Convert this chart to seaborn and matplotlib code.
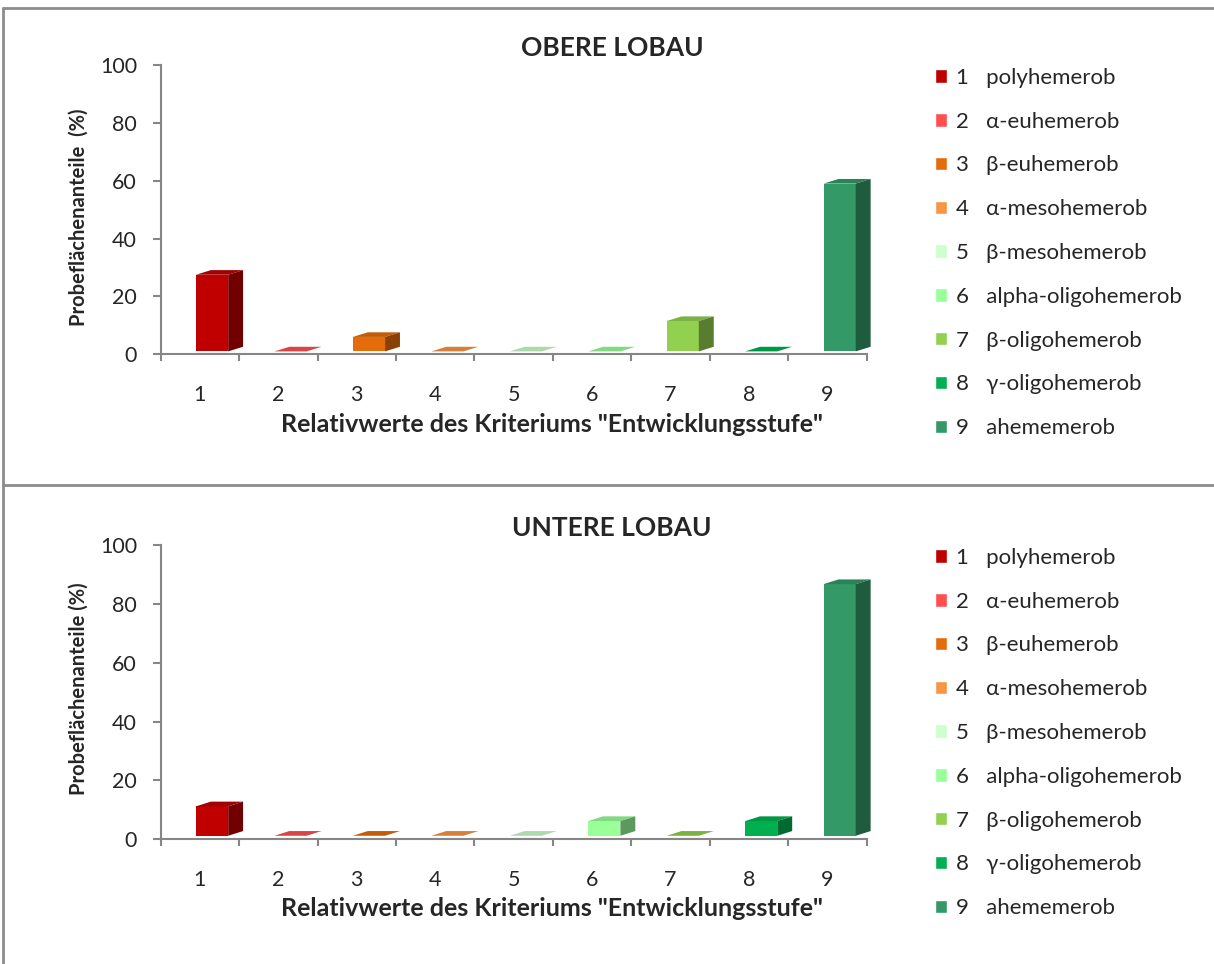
import matplotlib
matplotlib.use("Agg")
import matplotlib.pyplot as plt
import matplotlib.colors as mcolors
from matplotlib.patches import Polygon
from matplotlib.lines import Line2D
import pandas as pd
import seaborn as sns

# ---- data -------------------------------------------------------------
stufen = ["1", "2", "3", "4", "5", "6", "7", "8", "9"]
namen = ["polyhemerob", "α-euhemerob", "β-euhemerob", "α-mesohemerob",
         "β-mesohemerob", "alpha-oligohemerob", "β-oligohemerob",
         "γ-oligohemerob", "ahememerob"]
obere_lobau = [26.5, 0, 5, 0, 0, 0, 10.5, 0, 58]
untere_lobau = [10, 0, 0, 0, 0, 5, 0, 5, 85.5]
farben = ["#C00000", "#FF5050", "#E46C0A", "#F79646", "#CCFFCC",
          "#99FF99", "#92D050", "#00B050", "#339966"]

titel = ["OBERE LOBAU", "UNTERE LOBAU"]
ylabels = ["Probeflächenanteile  (%)", "Probeflächenanteile (%)"]
xlabel = 'Relativwerte des Kriteriums "Entwicklungsstufe"'

sns.set_style("white")
plt.rcParams["font.family"] = ["Lato", "DejaVu Sans"]

W, H = 1214, 964
fig = plt.figure(figsize=(W / 100, H / 100), dpi=100)

grau = "#868686"
labels = [f"{s}   {n}" for s, n in zip(stufen, namen)]
pal = dict(zip(labels, farben))

# axes geometry in pixels: (left, x_right, y_top(100), y_zero)
panels = [(160.7, 866.7, 65, 354.3), (160.7, 866.7, 545, 839.3)]
legend_top = [59, 539]
title_y = [48, 528]
xlabel_y = [424, 909]
ylabel_pos = [(-0.102, 0.473), (-0.102, 0.512)]

versatz = 0.155   # front face shifted right of category centre
dx, dy = 0.19, 1.6  # 3D depth in data units
boden = [1.0, 1.2]  # floor offset

for i, werte in enumerate([obere_lobau, untere_lobau]):
    l, r, t, b = panels[i]
    ax = fig.add_axes([l / W, 1 - b / H, (r - l) / W, (b - t) / H])
    df = pd.DataFrame({"stufe": stufen, "wert": werte, "label": labels})
    sns.barplot(data=df, x="stufe", y="wert", hue="label", palette=pal,
                width=0.41, saturation=1, ax=ax, legend=True)

    for bars in ax.containers:
        for p in bars:
            p.set_x(p.get_x() + versatz)
            p.set_y(boden[i])
            p.set_edgecolor("none")
            c = mcolors.to_rgb(p.get_facecolor())
            x0, x1 = p.get_x(), p.get_x() + p.get_width()
            y0, y1 = boden[i], boden[i] + p.get_height()
            top_c = tuple(v * 0.85 for v in c)
            side_c = tuple(v * 0.6 for v in c)
            ax.add_patch(Polygon([(x0, y1), (x1, y1), (x1 + dx, y1 + dy),
                                  (x0 + dx, y1 + dy)], closed=True,
                                 facecolor=top_c, edgecolor="none",
                                 clip_on=False, zorder=3))
            if p.get_height() > 0:
                ax.add_patch(Polygon([(x1, y0), (x1 + dx, y0 + dy),
                                      (x1 + dx, y1 + dy), (x1, y1)],
                                     closed=True, facecolor=side_c,
                                     edgecolor="none", clip_on=False,
                                     zorder=3))

    ax.set_xlim(-0.5, 8.5)
    ax.set_ylim(0, 100)
    ax.set_yticks(range(0, 101, 20))
    ax.set_xticks(range(9))
    ax.set_xticklabels(stufen)
    ax.set_xticks([k - 0.5 for k in range(10)], minor=True)
    ax.tick_params(axis="x", which="major", length=0, pad=22, labelsize=15.5)
    ax.tick_params(axis="x", which="minor", length=5, width=1.5,
                   color=grau, direction="out", bottom=True)
    ax.tick_params(axis="y", length=6, width=1.5, color=grau,
                   direction="out", left=True, pad=11, labelsize=15.5)
    for s in ["top", "right"]:
        ax.spines[s].set_visible(False)
    for s in ["left", "bottom"]:
        ax.spines[s].set_color(grau)
        ax.spines[s].set_linewidth(1.5)
    ax.set_xlabel("")
    ax.set_ylabel(ylabels[i], fontsize=14.5, fontweight="bold")
    ax.yaxis.set_label_coords(*ylabel_pos[i])

    fig.text(612 / W, 1 - title_y[i] / H, titel[i], ha="center",
             va="center", fontsize=19, fontweight="bold")
    fig.text(552 / W, 1 - xlabel_y[i] / H, xlabel, ha="center",
             va="center", fontsize=18, fontweight="bold")

    sns.move_legend(ax, "upper left",
                    bbox_to_anchor=(926 / W, 1 - legend_top[i] / H),
                    bbox_transform=fig.transFigure, frameon=False,
                    title=None, fontsize=16, labelspacing=1.07,
                    handlelength=0.55, handleheight=0.55,
                    handletextpad=0.4, borderaxespad=0)

# panel frames
for coords in [((3, 1214), (8, 8)), ((3, 3), (8, 964)),
               ((3, 1214), (485, 485))]:
    xs = [c / W for c in coords[0]]
    ys = [1 - c / H for c in coords[1]]
    fig.add_artist(Line2D(xs, ys, color="#8c8c8c", linewidth=2))

fig.savefig("out.png", dpi=100)
